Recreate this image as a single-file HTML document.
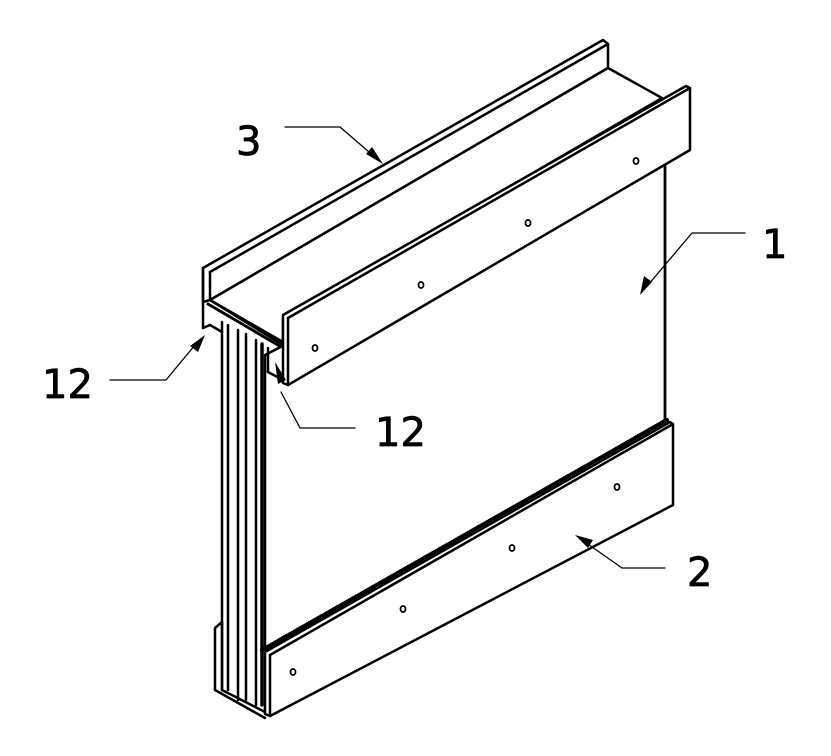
<!DOCTYPE html>
<html><head><style>html,body{margin:0;padding:0;background:#fff;width:831px;height:756px;overflow:hidden}</style></head>
<body>
<svg width="831" height="756" viewBox="0 0 831 756" xmlns="http://www.w3.org/2000/svg" fill="none" stroke="#000" stroke-width="2.5" stroke-linejoin="round" stroke-linecap="round">
<!-- top channel back flange -->
<polygon points="203,268 603,40 608,44 608,68 210,300 203,302" fill="#fff"/>
<line x1="210" y1="272" x2="608" y2="44"/>
<line x1="210" y1="272" x2="210" y2="300"/>
<!-- floor -->
<polygon points="210,300 608,68 662,98 283,318 283,345" fill="#fff"/>
<line x1="210" y1="300" x2="283" y2="342"/>
<line x1="208" y1="304" x2="283" y2="348" stroke-width="3"/>
<!-- back flange left lower -->
<line x1="203" y1="268" x2="203" y2="328"/>
<line x1="203" y1="328" x2="210" y2="325"/>
<line x1="210" y1="325" x2="222" y2="332"/>
<!-- panel 1 -->
<polygon points="265,355 665,150 665,420 265,650" fill="#fff"/>
<line x1="665" y1="150" x2="665" y2="422"/>
<!-- vertical strips -->
<line x1="222" y1="322" x2="222" y2="690"/>
<line x1="228" y1="325" x2="228" y2="690"/>
<line x1="238" y1="330" x2="238" y2="700"/>
<line x1="246" y1="334" x2="246" y2="700"/>
<line x1="256" y1="340" x2="256" y2="705"/>
<line x1="262" y1="344" x2="262" y2="705" stroke-width="3.5"/>
<line x1="268" y1="348" x2="268" y2="372"/>
<!-- front top flange -->
<polygon points="283,315 686,86 690,88 690,150 288,385 283,383" fill="#fff"/>
<line x1="288" y1="318" x2="690" y2="88"/>
<line x1="288" y1="318" x2="288" y2="385"/>
<line x1="268" y1="372" x2="283" y2="380"/>
<!-- holes top -->
<g stroke-width="1.8"><ellipse cx="315" cy="348" rx="2.5" ry="3"/><ellipse cx="421" cy="285" rx="2.5" ry="3"/><ellipse cx="528" cy="223" rx="2.5" ry="3"/><ellipse cx="636" cy="161" rx="2.5" ry="3"/></g>
<!-- bottom channel back -->
<polyline points="215,690 215,628 222,622 222,690"/>
<line x1="215" y1="690" x2="265" y2="718"/>
<line x1="222" y1="690" x2="265" y2="712"/>
<!-- bottom rail -->
<line x1="262" y1="650" x2="667" y2="420" stroke-width="4" stroke-dasharray="3 1.5"/>
<polygon points="265,652 670,422 673,424 673,505 270,716 265,714" fill="#fff"/>
<line x1="270" y1="655" x2="673" y2="424"/>
<line x1="270" y1="655" x2="270" y2="716"/>
<g stroke-width="1.8"><ellipse cx="293" cy="672" rx="2.5" ry="3"/><ellipse cx="403" cy="609" rx="2.5" ry="3"/><ellipse cx="512" cy="548" rx="2.5" ry="3"/><ellipse cx="617" cy="487" rx="2.5" ry="3"/></g>
<!-- leaders -->
<g stroke-width="1.3">
<polyline points="285,127 340,127 376,158"/>
<polyline points="745,233 692,233 648,285"/>
<polyline points="110,380 166,380 195,345"/>
<polyline points="355,428 300,428 281,392"/>
<polyline points="665,568 622,568 585,542"/>
</g>
<g fill="#000" stroke="none">
<polygon points="383,164 366,154 372,147"/>
<polygon points="640,295 644,276 652,282"/>
<polygon points="205,335 198,352 190,346"/>
<polygon points="275,362 286,380 278,384"/>
<polygon points="575,535 593,540 588,548"/>
</g>
<g fill="#000" stroke="#000" stroke-width="0.8" font-family="'DejaVu Sans','Liberation Sans',sans-serif" font-size="40">
<text x="236" y="155">3</text>
<text x="762" y="258">1</text>
<text x="42" y="398">12</text>
<text x="375" y="446">12</text>
<text x="687" y="586">2</text>
</g>
</svg>
</body></html>
